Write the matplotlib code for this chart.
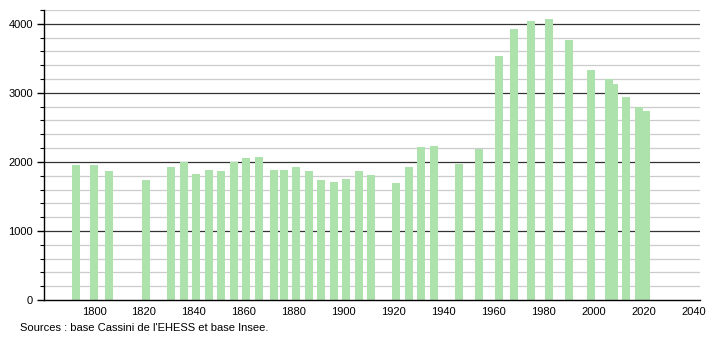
import matplotlib
matplotlib.use("Agg")
import matplotlib.pyplot as plt
import numpy as np

plt.rcParams['font.family'] = ['Liberation Sans', 'DejaVu Sans']

# census years and population
years = [1793, 1800, 1806, 1821, 1831, 1836, 1841, 1846, 1851, 1856,
         1861, 1866, 1872, 1876, 1881, 1886, 1891, 1896, 1901, 1906,
         1911, 1921, 1926, 1931, 1936, 1946, 1954, 1962, 1968, 1975,
         1982, 1990, 1999, 2006, 2008, 2013, 2018, 2021]
population = [1960, 1960, 1862, 1741, 1920, 1998, 1829, 1887, 1868, 1998,
              2061, 2075, 1887, 1887, 1920, 1872, 1732, 1703, 1756, 1868,
              1810, 1698, 1930, 2220, 2235, 1974, 2187, 3541, 3929, 4035,
              4074, 3759, 3338, 3203, 3130, 2942, 2791, 2743]
xticks = list(range(1800, 2041, 20))
yticks = [0, 1000, 2000, 3000, 4000]
source = "Sources : base Cassini de l'EHESS et base Insee."

fig = plt.figure(figsize=(7.1, 3.4), dpi=100)
ax = fig.add_axes([44 / 710, 1 - 300 / 340, 656 / 710, 290 / 340])

# light minor grid every 200, dark major grid every 1000
for v in np.arange(200, 4201, 200):
    if v % 1000 == 0:
        ax.axhline(v, color="#333333", lw=0.9, zorder=1)
    else:
        ax.axhline(v, color="#cccccc", lw=0.9, zorder=1)

ax.bar(years, population, width=3.2, color="#ade2ad", zorder=2)

ax.set_xlim(1780, 2042.5)
ax.set_ylim(0, 4200)
ax.set_xticks(xticks)
ax.set_yticks(yticks)
ax.set_yticks(np.arange(0, 4201, 200), minor=True)
ax.tick_params(axis="x", length=0, labelsize=8, pad=5)
ax.tick_params(axis="y", which="major", length=5, width=1, labelsize=8, pad=3)
ax.tick_params(axis="y", which="minor", length=3, width=0.8)

for s in ["top", "right"]:
    ax.spines[s].set_visible(False)
ax.spines["left"].set_linewidth(1)
ax.spines["bottom"].set_linewidth(1)

fig.text(20 / 710, 1 - 328 / 340, source, fontsize=8, va="center", ha="left")

fig.savefig("out.png", dpi=100)
